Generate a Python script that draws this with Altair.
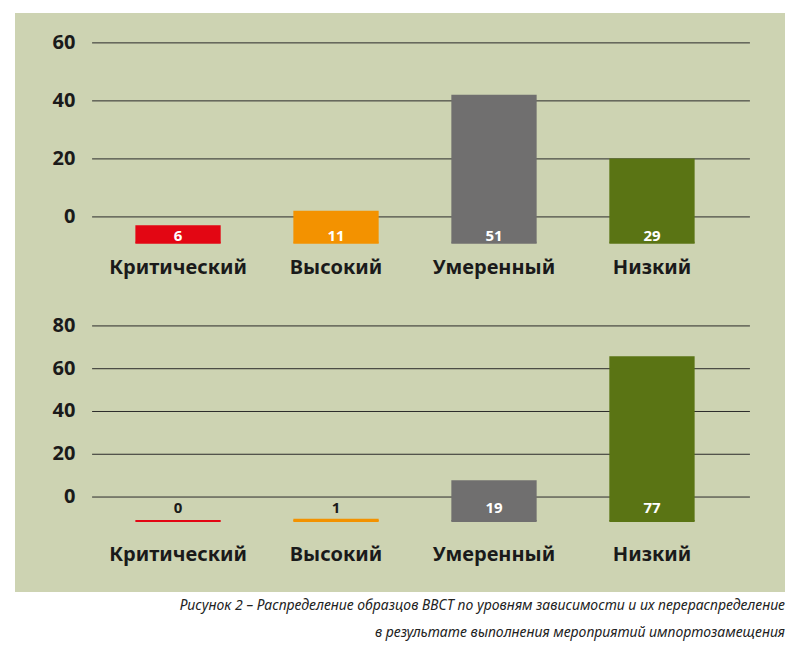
import altair as alt
import pandas as pd

categories = ["Критический", "Высокий", "Умеренный", "Низкий"]
colors = ["#e30613", "#f39200", "#706f6f", "#5a7414"]
before = [6, 11, 51, 29]
after = [0, 1, 19, 77]
top_ticks = [0, 20, 40, 60]
bottom_ticks = [0, 20, 40, 60, 80]
caption = ["Рисунок 2 – Распределение образцов ВВСТ по уровням зависимости и их перераспределение",
           "в результате выполнения мероприятий импортозамещения"]

BG = "#cdd3b2"
FONT = "Noto Sans"
HALF = 0.27


def panel(values, ticks, ydom, base, cat_y, lab_y, lab_colors, height):
    df = pd.DataFrame({
        "cat": categories, "idx": range(4), "v": values, "color": colors,
        "lab_color": lab_colors,
    })
    df["lo"] = df["idx"] - HALF
    df["hi"] = df["idx"] + HALF
    df["base"] = base
    df["top"] = df["v"] + base
    df["cat_y"] = cat_y
    df["lab_y"] = lab_y
    tdf = pd.DataFrame({"t": ticks})
    tdf["x0"] = -0.544
    tdf["x1"] = 3.62
    tdf["xl"] = -0.65
    xs = alt.Scale(domain=[-1.032, 3.842], nice=False, zero=False)
    ys = alt.Scale(domain=ydom, nice=False, zero=False)
    x_enc = alt.X("lo:Q", scale=xs, axis=None)
    grid = alt.Chart(tdf).mark_rule(color="#2b2b2b", strokeWidth=1).encode(
        x=alt.X("x0:Q", scale=xs, axis=None), x2="x1:Q",
        y=alt.Y("t:Q", scale=ys, axis=None))
    tick_text = alt.Chart(tdf).mark_text(align="right", baseline="middle", font=FONT,
                                          fontSize=20, fontWeight="bold", color="#1a1a1a").encode(
        x=alt.X("xl:Q", scale=xs, axis=None), y=alt.Y("t:Q", scale=ys, axis=None), text="t:Q")
    bars = alt.Chart(df).mark_bar().encode(
        x=x_enc, x2="hi:Q", y=alt.Y("base:Q", scale=ys, axis=None), y2="top:Q",
        color=alt.Color("color:N", scale=None, legend=None))
    baseline = alt.Chart(df).mark_rule(strokeWidth=2).encode(
        x=x_enc, x2="hi:Q", y=alt.Y("base:Q", scale=ys, axis=None),
        color=alt.Color("color:N", scale=None, legend=None))
    labels = alt.Chart(df).mark_text(baseline="middle", font=FONT, fontSize=15, fontWeight="bold").encode(
        x=alt.X("idx:Q", scale=xs, axis=None), y=alt.Y("lab_y:Q", scale=ys, axis=None), text="v:Q",
        color=alt.Color("lab_color:N", scale=None, legend=None))
    cats = alt.Chart(df).mark_text(baseline="middle", font=FONT, fontSize=20, fontWeight="bold",
                                   color="#1a1a1a").encode(
        x=alt.X("idx:Q", scale=xs, axis=None), y=alt.Y("cat_y:Q", scale=ys, axis=None), text="cat:N")
    return alt.layer(grid, tick_text, bars, baseline, labels, cats).properties(
        width=770, height=height, view=alt.ViewBackground(fill=BG, stroke=None))


top = panel(before, top_ticks, [-25.2, 70.3], -8.9, -17.6, -6.5, ["white"] * 4, 277)
bottom = panel(after, bottom_ticks, [-44.4, 96.8], -11.2, -27.1, -5.1,
               ["#1a1a1a", "#1a1a1a", "white", "white"], 302)

cdf = pd.DataFrame({"line": caption, "row": [0, 1], "x": [1, 1]})
cap = alt.Chart(cdf).mark_text(align="right", baseline="middle", font=FONT, fontSize=14,
                               fontStyle="italic", color="#222222").encode(
    x=alt.X("x:Q", scale=alt.Scale(domain=[0, 1]), axis=None),
    y=alt.Y("row:O", scale=alt.Scale(paddingOuter=0.3), axis=None),
    text="line:N").properties(width=770, height=55, view=alt.ViewBackground(fill="white", stroke=None))

chart = alt.vconcat(top, bottom, cap, spacing=0).properties(
    padding={"left": 7, "top": 5, "right": 0, "bottom": 0}, background="white"
).configure_view(stroke=None)

chart.save("out.html", embed_options={"renderer": "svg", "actions": False})
